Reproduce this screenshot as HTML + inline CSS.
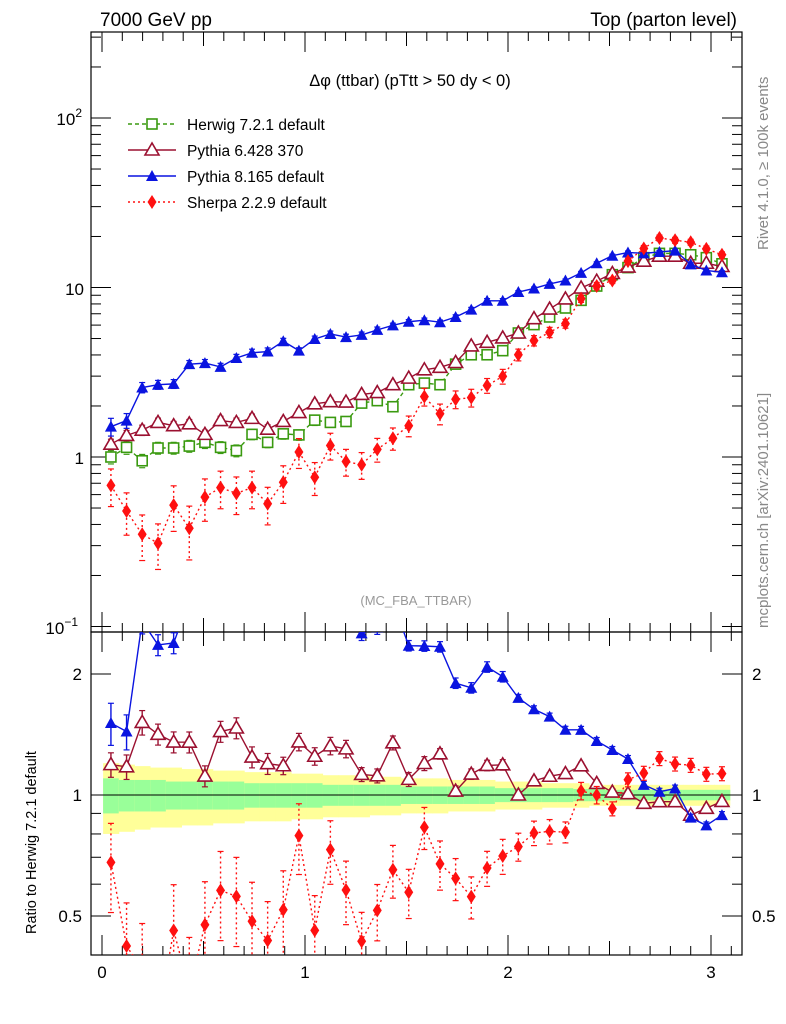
<!DOCTYPE html>
<html><head><meta charset="utf-8"><style>
html,body{margin:0;background:#fff;overflow:hidden;width:786px;height:1024px;}
svg{display:block;font-family:"Liberation Sans",sans-serif;}
</style></head><body>
<svg id="c" width="786" height="1024"></svg>
<script>
const xCenters=[0.044,0.121,0.198,0.276,0.353,0.430,0.507,0.584,0.662,0.739,0.816,0.893,0.970,1.048,1.125,1.202,1.279,1.356,1.433,1.511,1.588,1.665,1.742,1.819,1.897,1.974,2.051,2.128,2.205,2.283,2.360,2.437,2.514,2.591,2.669,2.746,2.823,2.900,2.977,3.054];
const herwig=[1.00,1.14,0.95,1.13,1.13,1.16,1.22,1.14,1.09,1.36,1.22,1.37,1.35,1.65,1.60,1.62,2.08,2.15,1.98,2.67,2.73,2.67,3.53,4.01,4.01,4.24,5.39,6.04,6.70,7.57,8.4,10.2,11.9,13.1,15.0,15.9,15.9,15.6,15.0,13.8];
const pythia6=[1.19,1.34,1.44,1.60,1.53,1.57,1.36,1.64,1.60,1.69,1.46,1.62,1.83,2.06,2.12,2.11,2.34,2.40,2.67,2.92,3.27,3.38,3.61,4.52,4.75,5.04,5.39,6.55,7.46,8.56,9.93,10.9,12.1,13.2,14.3,15.3,15.3,13.9,13.9,13.3];
const pythia8=[1.51,1.64,2.57,2.67,2.70,3.53,3.58,3.40,3.84,4.12,4.19,4.82,4.24,4.97,5.32,5.10,5.25,5.62,5.98,6.28,6.41,6.24,6.70,7.41,8.35,8.35,9.4,9.87,10.5,11.0,12.2,13.9,15.4,16.1,15.9,16.2,16.5,13.7,12.6,12.3];
const sherpa=[0.68,0.48,0.35,0.31,0.52,0.38,0.58,0.66,0.61,0.66,0.53,0.71,1.07,0.76,1.17,0.94,0.90,1.11,1.29,1.53,2.27,1.80,2.19,2.24,2.64,2.99,4.01,4.86,5.44,6.12,8.6,10.2,11.0,14.3,17.0,19.6,19.0,18.5,16.9,15.6];
const herwigErr=[0.09,0.09,0.09,0.08,0.08,0.08,0.08,0.08,0.08,0.07,0.07,0.07,0.07,0.07,0.06,0.06,0.06,0.06,0.06,0.05,0.05,0.05,0.05,0.05,0.04,0.04,0.04,0.04,0.04,0.03,0.03,0.03,0.03,0.03,0.03,0.03,0.03,0.03,0.03,0.03];
const p6Err=[0.07,0.07,0.07,0.06,0.06,0.06,0.06,0.06,0.06,0.06,0.06,0.05,0.05,0.05,0.05,0.05,0.04,0.04,0.04,0.04,0.04,0.03,0.03,0.03,0.03,0.03,0.02,0.02,0.02,0.02,0.02,0.02,0.02,0.02,0.02,0.02,0.02,0.02,0.02,0.02];
const p8Err=[0.12,0.10,0.07,0.06,0.06,0.05,0.05,0.05,0.05,0.05,0.05,0.04,0.04,0.04,0.04,0.04,0.04,0.04,0.03,0.03,0.03,0.03,0.03,0.03,0.03,0.03,0.02,0.02,0.02,0.02,0.02,0.02,0.02,0.02,0.02,0.02,0.02,0.02,0.02,0.02];
const shErr=[0.25,0.28,0.3,0.3,0.3,0.35,0.28,0.25,0.25,0.25,0.25,0.25,0.2,0.22,0.18,0.18,0.18,0.16,0.15,0.14,0.12,0.14,0.12,0.12,0.1,0.1,0.08,0.07,0.07,0.06,0.05,0.05,0.04,0.04,0.04,0.04,0.04,0.04,0.04,0.04];
const bandGreen=[0.10,0.09,0.09,0.09,0.08,0.08,0.08,0.08,0.08,0.07,0.07,0.07,0.07,0.07,0.06,0.06,0.06,0.06,0.06,0.05,0.05,0.05,0.05,0.05,0.05,0.04,0.04,0.04,0.04,0.04,0.035,0.035,0.03,0.03,0.03,0.03,0.03,0.03,0.03,0.03];
const bandYellow=[0.2,0.19,0.18,0.17,0.17,0.16,0.16,0.15,0.15,0.14,0.14,0.14,0.13,0.13,0.12,0.12,0.12,0.11,0.11,0.1,0.1,0.1,0.09,0.09,0.09,0.08,0.08,0.08,0.07,0.07,0.07,0.06,0.06,0.06,0.06,0.06,0.06,0.06,0.06,0.06];
const xTicks=[0,1,2,3];
const binW=0.0772;

const NS="http://www.w3.org/2000/svg";
const svg=document.getElementById('c');
function el(t,a,p){const e=document.createElementNS(NS,t);for(const k in a)e.setAttribute(k,a[k]);(p||svg).appendChild(e);return e;}
const L=91,R=742,T=32,M=632,B=955;
const X=v=>102+v*203;
const Y=v=>457-Math.log10(v)*169.5;
const RY=v=>795-Math.log2(v)*121;
const clipM=el('clipPath',{id:'cm'});el('rect',{x:L,y:T,width:R-L,height:M-T},clipM);
const clipR=el('clipPath',{id:'cr'});el('rect',{x:L,y:M,width:R-L,height:B-M},clipR);

const gBand=el('g',{'clip-path':'url(#cr)'});


xCenters.forEach((x,i)=>{
  const x0=X(x-binW/2),w=X(x+binW/2)-x0+0.5;
  el('rect',{x:x0,y:RY(1+bandYellow[i]),width:w,height:RY(1-bandYellow[i])-RY(1+bandYellow[i]),fill:'#ffff99'},gBand);
  el('rect',{x:x0,y:RY(1+bandGreen[i]),width:w,height:RY(1-bandGreen[i])-RY(1+bandGreen[i]),fill:'#99ff99'},gBand);
});
const one=el('line',{x1:L,x2:R,y1:RY(1),y2:RY(1),stroke:'#000','stroke-width':1});



const f1=el('rect',{x:L,y:T,width:R-L,height:M-T,fill:'none',stroke:'#000','stroke-width':1.2});

const f2=el('rect',{x:L,y:M,width:R-L,height:B-M,fill:'none',stroke:'#000','stroke-width':1.2});


for(let d=-2;d<=2;d++)for(let m=1;m<10;m++){const v=m*Math.pow(10,d);const y=Y(v);if(y<T||y>M)continue;const len=m==1?20:10;
 el('line',{x1:L,x2:L+len,y1:y,y2:y,stroke:'#000'});el('line',{x1:R,x2:R-len,y1:y,y2:y,stroke:'#000'});}
function txt(s,x,y,a,name,extra){const t=el('text',Object.assign({x:x,y:y,'text-anchor':a||'start','font-size':17},extra||{}));t.textContent=s;return t;}
const t100=txt('10',82,125,'end','y-tick-100');const s1=el('tspan',{dy:-8,'font-size':12},t100);s1.textContent='2';
txt('10',84,295,'end','y-tick-10');
txt('1',84,464,'end','y-tick-1');
const t01=txt('10',78,634,'end','y-tick-0.1');const s2=el('tspan',{dy:-8,'font-size':12},t01);s2.textContent='−1';
[0.5,0.6,0.7,0.8,0.9,1,2].forEach(v=>{const y=RY(v);if(y<M||y>B)return;const len=(v==1||v==2||v==0.5)?20:10;
 el('line',{x1:L,x2:L+len,y1:y,y2:y,stroke:'#000'});el('line',{x1:R,x2:R-len,y1:y,y2:y,stroke:'#000'});});
[[2,'2'],[1,'1'],[0.5,'0.5']].forEach(([v,s])=>{txt(s,82,RY(v)+6,'end','ratio-y-tick-left-'+s);txt(s,752,RY(v)+6,'start','ratio-y-tick-right-'+s);});
for(let k=0;k<=31;k++){const v=k*0.1,x=X(v);if(x>R)break;const len=k%10==0?20:(k%5==0?14:9);
 [[T,1],[M,1],[B,-1]].forEach(([y0,s])=>{el('line',{x1:x,x2:x,y1:y0,y2:y0+s*len,stroke:'#000'});});
 el('line',{x1:x,x2:x,y1:M,y2:M-len,stroke:'#000'});}
xTicks.forEach(v=>txt(String(v),X(v),978,'middle','x-tick-'+v));

function series(data,err,color,name,marker,dash,noRatio){
  const gm=el('g',{'clip-path':'url(#cm)'});
  
  const sets=[[gm,data,Y]];
  if(!noRatio){const gr=el('g',{'clip-path':'url(#cr)'});
  
  sets.push([gr,data.map((v,i)=>v/herwig[i]),RY]);}
  sets.forEach(([g,vals,YF])=>{
    const pts=vals.map((v,i)=>X(xCenters[i])+','+YF(v)).join(' ');
    el('polyline',{points:pts,fill:'none',stroke:color,'stroke-width':1.4,'stroke-dasharray':dash||'none'},g);
    vals.forEach((v,i)=>{const x=X(xCenters[i]);const y1=YF(v*(1+err[i])),y2=YF(v*(1-err[i]));
      el('line',{x1:x,x2:x,y1:y1,y2:y2,stroke:color,'stroke-width':1.4,'stroke-dasharray':dash||'none'},g);
      el('line',{x1:x-3,x2:x+3,y1:y1,y2:y1,stroke:color,'stroke-width':1.2},g);
      el('line',{x1:x-3,x2:x+3,y1:y2,y2:y2,stroke:color,'stroke-width':1.2},g);
      marker(g,x,YF(v));});
  });
}
const sq=(c)=>(g,x,y)=>el('rect',{x:x-5,y:y-5,width:10,height:10,fill:'#fff',stroke:c,'stroke-width':1.6},g);
const otri=(c)=>(g,x,y)=>el('polygon',{points:`${x},${y-7} ${x-7},${y+5} ${x+7},${y+5}`,fill:'#fff',stroke:c,'stroke-width':1.6},g);
const ftri=(c)=>(g,x,y)=>el('polygon',{points:`${x},${y-6} ${x-6},${y+5} ${x+6},${y+5}`,fill:c},g);
const dia=(c)=>(g,x,y)=>el('polygon',{points:`${x},${y-7} ${x-4.5},${y} ${x},${y+7} ${x+4.5},${y}`,fill:c},g);
series(herwig,herwigErr,'#3a9a10','herwig',sq('#3a9a10'),'4,3',true);
series(pythia6,p6Err,'#9b1030','pythia6',otri('#9b1030'));
series(pythia8,p8Err,'#0a14e0','pythia8',ftri('#0a14e0'));
series(sherpa,shErr,'#ff1010','sherpa',dia('#ff1010'),'2,3');

const lg=el('g',{});
[['Herwig 7.2.1 default','#3a9a10',sq('#3a9a10'),'4,3'],['Pythia 6.428 370','#9b1030',otri('#9b1030')],['Pythia 8.165 default','#0a14e0',ftri('#0a14e0')],['Sherpa 2.2.9 default','#ff1010',dia('#ff1010'),'2,3']].forEach(([s,c,m,d],i)=>{
  const y=124+i*26;const g=el('g',{},lg);
  el('line',{x1:128,x2:176,y1:y,y2:y,stroke:c,'stroke-width':1.4,'stroke-dasharray':d||'none'},g);
  m(g,152,y);
  const t=el('text',{x:187,y:y+6,'font-size':15.5},g);t.textContent=s;
});
txt('7000 GeV pp',100,26,'start','energy-label',{'font-size':19});
txt('Top (parton level)',737,26,'end','process-label',{'font-size':19});
txt('Δφ (ttbar) (pTtt > 50 dy < 0)',410,86,'middle','plot-title',{'font-size':16.5});
txt('(MC_FBA_TTBAR)',416,605,'middle','analysis-label',{'font-size':13,fill:'#999'});
txt('Rivet 4.1.0, ≥ 100k events',768,250,'start','rivet-label',{'font-size':15,fill:'#888',transform:'rotate(-90 768 250)'});
txt('mcplots.cern.ch [arXiv:2401.10621]',768,628,'start','source-label',{'font-size':15,fill:'#888',transform:'rotate(-90 768 628)'});
txt('Ratio to Herwig 7.2.1 default',36,934,'start','ratio-y-axis-title',{'font-size':14.5,transform:'rotate(-90 36 934)'});
</script>
</body></html>
